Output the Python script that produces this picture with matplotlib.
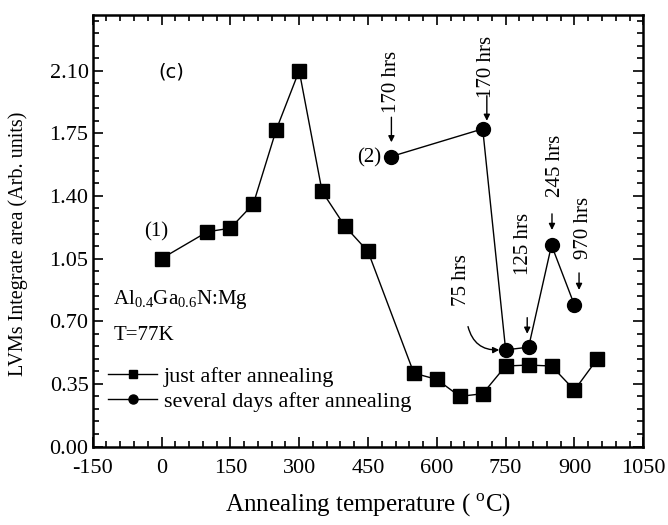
import matplotlib
matplotlib.use("Agg")
import matplotlib.pyplot as plt
from matplotlib.ticker import MultipleLocator

plt.rcParams["font.family"] = ["Liberation Serif", "DejaVu Serif"]
plt.rcParams["mathtext.fontset"] = "custom"
plt.rcParams["mathtext.rm"] = "Liberation Serif"
plt.rcParams["axes.unicode_minus"] = False

# just after annealing
temp_sq = [0, 100, 150, 200, 250, 300, 350, 400, 450, 550, 600, 650, 700, 750, 800, 850, 900, 950]
area_sq = [1.05, 1.20, 1.22, 1.355, 1.77, 2.10, 1.425, 1.23, 1.09, 0.41, 0.375, 0.28, 0.295, 0.45, 0.455, 0.45, 0.315, 0.49]

# several days after annealing
temp_ci = [500, 700, 750, 800, 850, 900]
area_ci = [1.62, 1.775, 0.54, 0.555, 1.125, 0.79]

# hours labels: (text, text x, text y, arrow tail y, arrow head x, arrow head y)
hrs_labels = [
    ("170 hrs", 501, 2.04, 1.84, 501, 1.70),
    ("170 hrs", 709, 2.12, 1.96, 709, 1.82),
    ("125 hrs", 788, 1.13, 0.72, 797, 0.63),
    ("245 hrs", 858, 1.57, 1.30, 851, 1.21),
    ("970 hrs", 919, 1.22, 0.97, 910, 0.875),
]


def main():
    fig = plt.figure(figsize=(6.68, 5.25), dpi=100)
    ax = fig.add_axes([0.1388, 0.1495, 0.8242, 0.8215])

    ax.plot(temp_sq, area_sq, color="black", lw=1.0, marker="s", ms=9.5,
            label="just after annealing")
    ax.plot(temp_ci, area_ci, color="black", lw=1.0, marker="o", ms=10,
            label="several days after annealing")

    ax.set_xlim(-150, 1050)
    ax.set_ylim(0, 2.41)
    ax.xaxis.set_major_locator(MultipleLocator(150))
    ax.xaxis.set_minor_locator(MultipleLocator(30))
    ax.yaxis.set_major_locator(MultipleLocator(0.35))
    ax.yaxis.set_minor_locator(MultipleLocator(0.07))
    ax.yaxis.set_major_formatter(plt.FormatStrFormatter("%.2f"))
    ax.tick_params(which="both", direction="in", top=True, right=True,
                   labelsize=16, width=1.2)
    ax.tick_params(which="major", length=7)
    ax.tick_params(which="minor", length=4)
    ax.tick_params(axis="x", which="major", pad=9)
    ax.tick_params(axis="y", which="major", pad=3)
    for s in ax.spines.values():
        s.set_linewidth(1.8)

    ax.set_xlabel(r"Annealing temperature ( $^{\rm o}$C)", fontsize=18, labelpad=10)
    ax.set_ylabel("LVMs Integrate area (Arb. units)", fontsize=14.5)
    ax.yaxis.set_label_coords(-0.118, 0.47)

    ax.text(22, 2.09, "(c)", fontsize=14, family="DejaVu Sans", ha="center", va="center")
    ax.text(-11, 1.20, "(1)", fontsize=15, ha="center", va="center")
    ax.text(453, 1.615, "(2)", fontsize=15, ha="center", va="center")
    ax.text(-105, 0.82, r"Al$_{0.4}$Ga$_{0.6}$N:Mg", fontsize=15, ha="left", va="center")
    ax.text(-105, 0.62, "T=77K", fontsize=15, ha="left", va="center")

    for txt, tx, ty, tail, hx, hy in hrs_labels:
        ax.text(tx, ty, txt, rotation=90, fontsize=15, ha="center", va="center")
        ax.annotate("", xy=(hx, hy), xytext=(hx, tail),
                    arrowprops=dict(arrowstyle="-|>", color="black", lw=1.0,
                                    mutation_scale=9, shrinkA=0, shrinkB=0))

    ax.text(654, 0.93, "75 hrs", rotation=90, fontsize=15, ha="center", va="center")
    ax.annotate("", xy=(736, 0.54), xytext=(668, 0.67),
                arrowprops=dict(arrowstyle="-|>", color="black", lw=1.0,
                                mutation_scale=9, shrinkA=0, shrinkB=0,
                                connectionstyle="arc3,rad=0.4"))

    ax.legend(loc="lower left", bbox_to_anchor=(0.0, 0.045), frameon=False,
              fontsize=16, handlelength=2.2, handletextpad=0.3, labelspacing=0.2,
              markerscale=0.65, borderaxespad=0.3)

    fig.savefig("out.png", dpi=100)


if __name__ == "__main__":
    main()
